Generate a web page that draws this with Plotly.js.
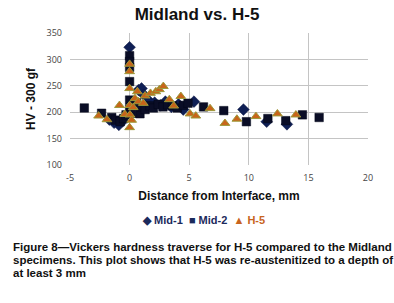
<!DOCTYPE html>
<html><head><meta charset="utf-8">
<script src="https://cdn.plot.ly/plotly-3.0.1.min.js"></script>
<style>html,body{margin:0;padding:0;background:#fff;}#chart{width:394px;height:303px;}</style>
</head><body><div id="chart"></div>
<script>
const mid1X = [0, -1.7, -1.3, -0.9, -0.6, 0.75, 1.0, 1.2, 1.6, 2.1, 2.6, 3.0, 3.5, 4.1, 4.5, 5.4, 9.55, 11.5, 13.2];
const mid1Y = [323, 186, 180, 176, 183, 242, 245, 233, 222, 218, 213, 220, 210, 215, 205, 220, 205, 182, 177];

const mid2X = [-3.8, -2.35, -1.5, -1.2, -0.8, -0.5, -0.3, 0, 0, 0, 0, 0, 0, 0.17, 0.87, 0.6, 1.0, 1.3, 1.7, 2.0, 2.4, 2.8, 3.2, 3.6, 4.0, 4.5, 4.9, 6.2, 7.9, 9.8, 11.6, 13.1, 14.5, 15.9];
const mid2Y = [208, 198, 190, 185, 182, 188, 195, 307, 296, 285, 258, 223, 206, 198, 197, 218, 210, 205, 212, 208, 215, 210, 214, 212, 208, 213, 217, 210, 203, 182, 188, 184, 195, 190];

const h5X = [-2.6, -1.9, -0.85, -0.4, 0, 0, 0, 0, 0.03, 0.17, 0, 0.3, 0.45, 0.65, 0.73, 1.15, 1.3, 1.75, 2.2, 2.5, 2.83, 3.33, 3.7, 4.3, 5.07, 5.55, 6.75, 8.0, 9.0, 10.6, 12.4, 13.95];
const h5Y = [193, 186, 213, 196, 291, 277, 245, 213, 195, 185, 171, 209, 226, 239, 220, 217, 231, 236, 239, 243, 249, 224, 212, 230, 197, 193, 207, 179, 187, 192, 197, 195];

const xTicks = [-5, 0, 5, 10, 15, 20];
const yTicks = [100, 150, 200, 250, 300, 350];

const seriesNames = ['Mid-1', 'Mid-2', 'H-5'];
const legendSymbols = ['\u25C6', '\u25A0', '\u25B2'];
const legendColors = ['#1b2a5c', '#1b2a5c', '#c8641e'];

const captionLines = [
  'Figure 8\u2014Vickers hardness traverse for H-5 compared to the Midland',
  'specimens. This plot shows that H-5 was re-austenitized to a depth of',
  'at least 3 mm'
];

const traces = [
  {x: mid1X, y: mid1Y, type: 'scatter', mode: 'markers', name: seriesNames[0],
   marker: {symbol: 'diamond', size: 9, color: '#0f1f55', line: {color: '#0a1440', width: 0.5}}},
  {x: mid2X, y: mid2Y, type: 'scatter', mode: 'markers', name: seriesNames[1],
   marker: {symbol: 'square', size: 8.5, color: '#0a0d26', line: {color: '#05081a', width: 0.5}}},
  {x: h5X, y: h5Y, type: 'scatter', mode: 'markers', name: seriesNames[2],
   marker: {symbol: 'triangle-up', size: 8.5, color: '#c8641a', line: {color: '#9c9a3a', width: 1}}}
];

const legendText = seriesNames.map((n, i) =>
  '<span style="color:' + legendColors[i] + '">' + legendSymbols[i] + ' ' + n + '</span>').join('  ');

// plot area: y from 33 (top) to 165 (bottom) => 132 px tall
function py(pix) { return (165 - pix) / 132; }
function px(pix) { return (pix - 70) / 298; }

const annotations = [{
  xref: 'paper', yref: 'paper', x: px(203), y: py(220), xanchor: 'center', yanchor: 'middle',
  showarrow: false, text: '<b>' + legendText + '</b>',
  font: {family: 'Liberation Sans, Arial, sans-serif', size: 11, color: '#1b2a5c'}
}];
const capY = [247, 260, 273];
captionLines.forEach((t, i) => annotations.push({
  xref: 'paper', yref: 'paper', x: px(11), y: py(capY[i]), xanchor: 'left', yanchor: 'middle', align: 'left',
  showarrow: false, text: '<b>' + t + '</b>',
  font: {family: 'Liberation Sans, Arial, sans-serif', size: 11.5, color: '#111'}
}));

const layout = {
  width: 394, height: 303,
  margin: {l: 70, r: 26, t: 33, b: 138},
  paper_bgcolor: '#fff', plot_bgcolor: '#fff',
  title: {text: '<b>Midland vs. H-5</b>', x: 0.5, xanchor: 'center', y: 0.955, yanchor: 'middle',
          font: {family: 'Liberation Sans, Arial, sans-serif', size: 17, color: '#111'}},
  showlegend: false,
  xaxis: {range: [-5, 20], tickvals: xTicks, ticktext: xTicks.map(String), showgrid: true, gridcolor: '#c4c4c4', gridwidth: 1,
          zeroline: false, showline: false, ticks: '', ticklabelstandoff: 6,
          tickfont: {family: 'Open Sans, sans-serif', size: 9, color: '#444'},
          title: {text: '<b>Distance from Interface, mm</b>', standoff: 8,
                  font: {family: 'Liberation Sans, Arial, sans-serif', size: 12, color: '#111'}}},
  yaxis: {range: [100, 350], tickvals: yTicks, ticktext: yTicks.map(String), showgrid: true, gridcolor: '#c4c4c4', gridwidth: 1,
          zeroline: false, showline: false, ticks: '', ticklabelstandoff: 7,
          tickfont: {family: 'Open Sans, sans-serif', size: 9, color: '#444'},
          title: {text: '<b>HV - 300 gf</b>', standoff: 8,
                  font: {family: 'Liberation Sans, Arial, sans-serif', size: 12, color: '#111'}}},
  annotations: annotations
};

Plotly.newPlot('chart', traces, layout, {displayModeBar: false, staticPlot: true});
</script>
</body></html>
